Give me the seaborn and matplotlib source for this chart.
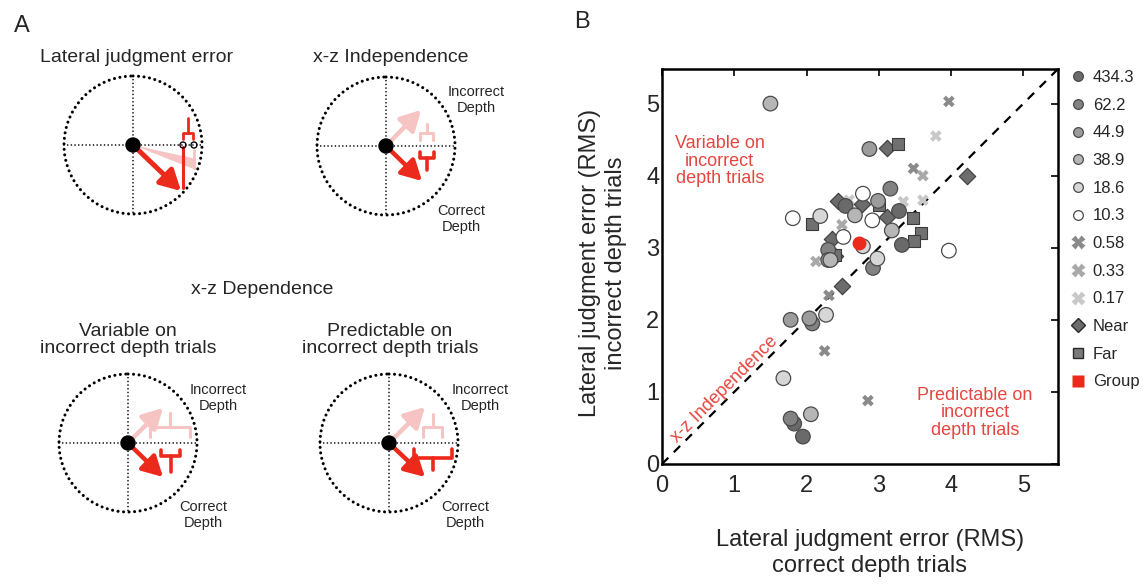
import numpy as np
import pandas as pd
import matplotlib
matplotlib.use("Agg")
import matplotlib.pyplot as plt
from matplotlib.patches import Circle, Polygon
from matplotlib.lines import Line2D
import seaborn as sns

# ---------------- data (panel B) ----------------
circle_x = [1.95, 1.83, 3.32, 2.54, 3.28,
            1.78, 2.08, 3.16, 2.92, 2.30,
            2.87, 1.78, 2.04, 2.99, 2.30,
            1.50, 2.67, 2.06, 3.18, 2.33,
            2.19, 1.68, 2.27, 2.98, 2.78,
            2.78, 1.81, 2.91, 2.51, 3.97]
circle_y = [0.38, 0.56, 3.04, 3.58, 3.51,
            0.63, 1.95, 3.82, 2.72, 2.97,
            4.37, 2.00, 2.02, 3.65, 2.83,
            5.00, 3.45, 0.69, 3.24, 2.83,
            3.44, 1.19, 2.07, 2.85, 3.02,
            3.75, 3.41, 3.38, 3.15, 2.96]
circle_level = (["434.3"] * 5 + ["62.2"] * 5 + ["44.9"] * 5 +
                ["38.9"] * 5 + ["18.6"] * 5 + ["10.3"] * 5)
circle_levels = ["434.3", "62.2", "44.9", "38.9", "18.6", "10.3"]

cross_x = [3.97, 3.48, 2.25, 2.85, 2.31, 2.49, 2.13, 3.61, 3.79, 3.34, 3.61, 2.59, 2.29]
cross_y = [5.03, 4.10, 1.57, 0.88, 2.34, 3.32, 2.81, 4.00, 4.55, 3.64, 3.66, 3.66, 3.00]
cross_level = ["0.58"] * 5 + ["0.33"] * 3 + ["0.17"] * 5
cross_levels = ["0.58", "0.33", "0.17"]

near_x = [3.11, 2.44, 2.77, 3.11, 2.35, 2.49, 4.22, 2.39]
near_y = [4.39, 3.65, 3.61, 3.42, 3.12, 2.47, 4.00, 2.88]
far_x = [3.26, 2.08, 3.48, 3.58, 3.49, 2.40, 3.00]
far_y = [4.44, 3.33, 3.41, 3.20, 3.09, 2.90, 3.60]

group_x = [2.73]
group_y = [3.06]
group_xerr = [0.03]
group_yerr = [0.09]

ticks = [0, 1, 2, 3, 4, 5]

# ---------------- styles ----------------
sns.set_style("white")
plt.rcParams["font.family"] = ["Liberation Sans", "DejaVu Sans"]

RED = "#ec2a1c"
PINK = "#f6c4c2"
TXT_RED = "#e5473f"
circle_pal = dict(zip(circle_levels, ["#6a6a6a", "#828282", "#9c9c9c", "#b6b6b6", "#d6d6d6", "#ffffff"]))
cross_pal = dict(zip(cross_levels, ["#8a8a8a", "#a9a9a9", "#c8c8c8"]))

W, H = 1148, 584
fig = plt.figure(figsize=(W / 100, H / 100), dpi=100)

# ---------------- panel A (schematics, pixel coordinates) ----------------
axA = fig.add_axes([0, 0, 600 / W, 1])
axA.set_xlim(0, 600)
axA.set_ylim(H, 0)
axA.axis("off")


def draw_frame(cx, cy, r=69):
    c = Circle((cx, cy), r, fill=False, ec="black", lw=2.2, ls=(0, (0.01, 1.8)))
    c.set_capstyle("round")
    axA.add_patch(c)
    for xs, ys in (([cx - r, cx + r], [cy, cy]), ([cx, cx], [cy - r, cy + r])):
        axA.plot(xs, ys, color="black", lw=1.2, ls=(0, (0.01, 2.2)),
                 dash_capstyle="round", zorder=1)
    axA.add_patch(Circle((cx, cy), 7, color="black", zorder=6))


def arrow(cx, cy, tx, ty, color, lw=3.2):
    axA.annotate("", xy=(tx, ty), xytext=(cx, cy),
                 arrowprops=dict(arrowstyle="-|>,head_length=0.55,head_width=0.3",
                                 color=color, lw=lw, shrinkA=0, shrinkB=0,
                                 mutation_scale=22), zorder=4)


def bracket(x1, x2, yb, leg, stem, color, lw=2.2):
    xm = (x1 + x2) / 2
    axA.plot([x1, x1, x2, x2], [yb + leg, yb, yb, yb + leg], color=color, lw=lw,
             solid_joinstyle="round", zorder=4)
    axA.plot([xm, xm], [yb, yb + stem], color=color, lw=lw, zorder=4)


fs_title = 14
fs_small = 10.5

axA.text(14, 26, "A", fontsize=17, ha="left", va="center")

# 1 - Lateral judgment error
axA.text(137, 58, "Lateral judgment error", fontsize=fs_title, ha="center", va="center")
draw_frame(133, 145)
axA.add_patch(Polygon([(133, 145), (196, 159), (196, 170)], closed=True, fc=PINK, ec="none", zorder=2))
axA.plot([194, 194], [150, 168], color=PINK, lw=2, zorder=2)
arrow(133, 145, 181, 191, RED, lw=3.6)
axA.plot([183, 183], [188, 147], color=RED, lw=2.2, zorder=4)
for px in (183, 194):
    axA.add_patch(Circle((px, 145), 3, fill=False, ec="black", lw=1.0, zorder=5))
bracket(183, 193, 133, 6, -15, RED, lw=2.0)

# 2 - x-z Independence
axA.text(391, 57, "x-z Independence", fontsize=fs_title, ha="center", va="center")
draw_frame(386, 146)
arrow(386, 146, 421, 110, PINK)
arrow(386, 146, 422, 181, RED)
bracket(420, 433, 133, 7, -9, PINK)
bracket(420, 434, 158, -6, 12, RED, lw=2.6)
axA.text(476, 100, "Incorrect\nDepth", fontsize=fs_small, ha="center", va="center", linespacing=1.1)
axA.text(461, 219, "Correct\nDepth", fontsize=fs_small, ha="center", va="center", linespacing=1.1)

# x-z Dependence header
axA.text(262, 290, "x-z Dependence", fontsize=fs_title, ha="center", va="center")

# 3 - Variable on incorrect depth trials
axA.text(128, 340, "Variable on\nincorrect depth trials", fontsize=fs_title, ha="center",
         va="center", linespacing=1.05)
draw_frame(128, 443)
arrow(128, 443, 163, 408, PINK)
arrow(128, 443, 163, 477, RED)
bracket(150, 190, 427, 10, -14, PINK)
bracket(161, 180, 456, -6, 16, RED, lw=2.6)
axA.text(218, 398, "Incorrect\nDepth", fontsize=fs_small, ha="center", va="center", linespacing=1.1)
axA.text(203, 515, "Correct\nDepth", fontsize=fs_small, ha="center", va="center", linespacing=1.1)

# 4 - Predictable on incorrect depth trials
axA.text(390, 340, "Predictable on\nincorrect depth trials", fontsize=fs_title, ha="center",
         va="center", linespacing=1.05)
draw_frame(389, 443)
arrow(389, 443, 425, 407, PINK)
arrow(389, 443, 425, 477, RED)
bracket(423, 442, 427, 10, -13, PINK)
bracket(414, 452, 458, -9, 12, RED, lw=2.6)
axA.text(480, 398, "Incorrect\nDepth", fontsize=fs_small, ha="center", va="center", linespacing=1.1)
axA.text(465, 515, "Correct\nDepth", fontsize=fs_small, ha="center", va="center", linespacing=1.1)

# ---------------- panel B (scatter) ----------------
L, R, T, B = 662, 1058, 69, 464
axB = fig.add_axes([L / W, (H - B) / H, (R - L) / W, (B - T) / H])

lim = 5.48
axB.plot([0, lim], [0, lim], ls=(0, (4, 3.5)), color="black", lw=1.6, zorder=1)

df_c = pd.DataFrame({"x": circle_x, "y": circle_y, "level": circle_level})
df_x = pd.DataFrame({"x": cross_x, "y": cross_y, "level": cross_level})
df_n = pd.DataFrame({"x": near_x, "y": near_y})
df_f = pd.DataFrame({"x": far_x, "y": far_y})

sns.scatterplot(data=df_x, x="x", y="y", hue="level", palette=cross_pal, marker="X",
                s=70, linewidth=0, legend=False, ax=axB, zorder=2)
sns.scatterplot(data=df_n, x="x", y="y", marker="D", color="#6c6c6c", edgecolor="#3a3a3a",
                s=70, linewidth=0.8, legend=False, ax=axB, zorder=3)
sns.scatterplot(data=df_f, x="x", y="y", marker="s", color="#707070", edgecolor="#3a3a3a",
                s=70, linewidth=0.8, legend=False, ax=axB, zorder=3)
sns.scatterplot(data=df_c, x="x", y="y", hue="level", palette=circle_pal, marker="o",
                edgecolor="#4a4a4a", s=110, linewidth=0.9, legend=False, ax=axB, zorder=4)
axB.errorbar(group_x, group_y, xerr=group_xerr, yerr=group_yerr, fmt="o", color=RED,
             ms=9, mec=RED, elinewidth=1.5, capsize=0, zorder=6)

axB.set_xlim(0, lim)
axB.set_ylim(0, lim)
axB.set_xticks(ticks)
axB.set_yticks(ticks)
axB.set_xticklabels([str(t) for t in ticks])
axB.set_yticklabels([str(t) for t in ticks])
axB.tick_params(direction="in", length=5, width=1.2, top=True, right=True,
                labelsize=17, pad=2, color="black")
axB.tick_params(axis="x", pad=8)
for s in axB.spines.values():
    s.set_visible(True)
    s.set_linewidth(1.8)
    s.set_color("black")
axB.set_xlabel("")
axB.set_ylabel("")

fig.text(870 / W, 1 - 553 / H, "Lateral judgment error (RMS)\ncorrect depth trials",
         fontsize=17, ha="center", va="center", linespacing=1.2)
fig.text(603 / W, 1 - 263 / H, "Lateral judgment error (RMS)\nincorrect depth trials",
         fontsize=17, ha="center", va="center", rotation=90, linespacing=1.2)

axB.text(0.80, 4.2, "Variable on\nincorrect\ndepth trials", color=TXT_RED, fontsize=13,
         ha="center", va="center", linespacing=1.05)
axB.text(4.33, 0.71, "Predictable on\nincorrect\ndepth trials", color=TXT_RED, fontsize=13,
         ha="center", va="center", linespacing=1.05)
axB.text(0.87, 1.03, "x-z Independence", color=TXT_RED, fontsize=13, ha="center",
         va="center", rotation=45, rotation_mode="anchor")

fig.text(582 / W, 1 - 22 / H, "B", fontsize=17, ha="center", va="center")

# legend
handles = []
labels = []
for lv in circle_levels:
    handles.append(Line2D([], [], ls="none", marker="o", ms=7, mfc=circle_pal[lv],
                          mec="#4a4a4a", mew=0.9))
    labels.append(lv)
for lv in cross_levels:
    handles.append(Line2D([], [], ls="none", marker="X", ms=10, mfc=cross_pal[lv], mec="none"))
    labels.append(lv)
handles.append(Line2D([], [], ls="none", marker="D", ms=7, mfc="#6c6c6c", mec="#2a2a2a", mew=1))
labels.append("Near")
handles.append(Line2D([], [], ls="none", marker="s", ms=7, mfc="#7a7a7a", mec="#2a2a2a", mew=1))
labels.append("Far")
handles.append(Line2D([], [], ls="none", marker="s", ms=8, mfc=RED, mec="none"))
labels.append("Group")
fig.legend(handles, labels, loc="upper left", bbox_to_anchor=(1071 / W, 1 - 70 / H),
           frameon=False, fontsize=12, handlelength=0.8, handletextpad=0.5,
           labelspacing=0.76, borderaxespad=0, borderpad=0)

fig.savefig("out.png", dpi=100)
